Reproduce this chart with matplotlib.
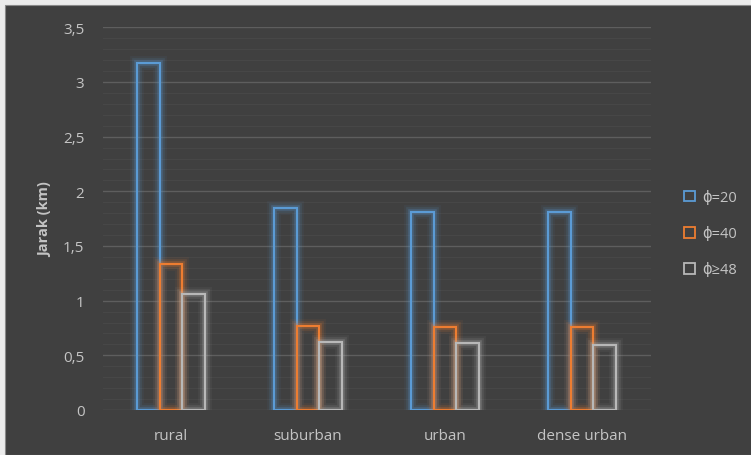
import matplotlib.pyplot as plt
import matplotlib.patheffects as pe
from matplotlib.patches import Patch, Rectangle
from matplotlib.ticker import MultipleLocator, FuncFormatter
import numpy as np

plt.rcParams['font.family'] = ['Open Sans', 'DejaVu Sans']

categories = ['rural', 'suburban', 'urban', 'dense urban']
series_names = ['ϕ=20', 'ϕ=40', 'ϕ≥48']
phi20 = [3.17, 1.85, 1.81, 1.81]
phi40 = [1.335, 0.77, 0.756, 0.756]
phi48 = [1.06, 0.624, 0.612, 0.597]

colors = ['#5b9bd5', '#ed7d31', '#b8b8b8']
bg = '#404040'
txt = '#c4c4c4'

fig = plt.figure(figsize=(7.51, 4.56), dpi=100)
fig.patch.set_facecolor('#ececec')
# dark chart area inside the light frame
fig.patches.append(Rectangle((5 / 751, 0), 1, 1 - 6 / 456, transform=fig.transFigure,
                             facecolor=bg, edgecolor='#8a8a8a', linewidth=0.8, zorder=-10))

ax = fig.add_axes([102.5 / 751, 45 / 456, 548 / 751, (411 - 28.3) / 456])
ax.set_facecolor(bg)

x = np.arange(len(categories))
w = 0.164
for i, (vals, col) in enumerate(zip([phi20, phi40, phi48], colors)):
    bars = ax.bar(x + (i - 1) * w, vals, w, facecolor='none', edgecolor=col,
                  linewidth=1.5, zorder=3)
    for b in bars:
        b.set_path_effects([
            pe.Stroke(linewidth=10, foreground=col, alpha=0.06),
            pe.Stroke(linewidth=7, foreground=col, alpha=0.12),
            pe.Stroke(linewidth=4, foreground=col, alpha=0.25),
            pe.Normal(),
        ])

ax.set_xlim(-0.5, 3.5)
ax.set_ylim(0, 3.5)
ax.yaxis.set_major_locator(MultipleLocator(0.5))
ax.yaxis.set_minor_locator(MultipleLocator(0.1))
ax.yaxis.set_major_formatter(FuncFormatter(lambda v, p: f'{v:g}'.replace('.', ',')))
ax.grid(axis='y', which='major', color='#5e5e5e', linewidth=1.0, zorder=0)
ax.grid(axis='y', which='minor', color='#474747', linewidth=0.8, zorder=0)
ax.set_axisbelow(True)

ax.set_xticks(x)
ax.set_xticklabels(categories)
ax.tick_params(axis='both', which='both', length=0, colors=txt, labelsize=11)
ax.tick_params(axis='y', pad=13)
ax.tick_params(axis='x', pad=13)
for s in ax.spines.values():
    s.set_visible(False)

ax.set_ylabel('Jarak (km)', color=txt, fontsize=10.5, fontweight='bold', labelpad=8)

handles = [Patch(facecolor='none', edgecolor=c, linewidth=1.3) for c in colors]
leg = fig.legend(handles, series_names, loc='upper left',
                 bbox_to_anchor=(671 / 751, 1 - 178 / 456), frameon=False,
                 handlelength=0.75, handleheight=0.75, handletextpad=0.5,
                 labelspacing=1.45, fontsize=10.5)
for t in leg.get_texts():
    t.set_color(txt)

fig.savefig('out.png', dpi=100, facecolor=fig.get_facecolor())
